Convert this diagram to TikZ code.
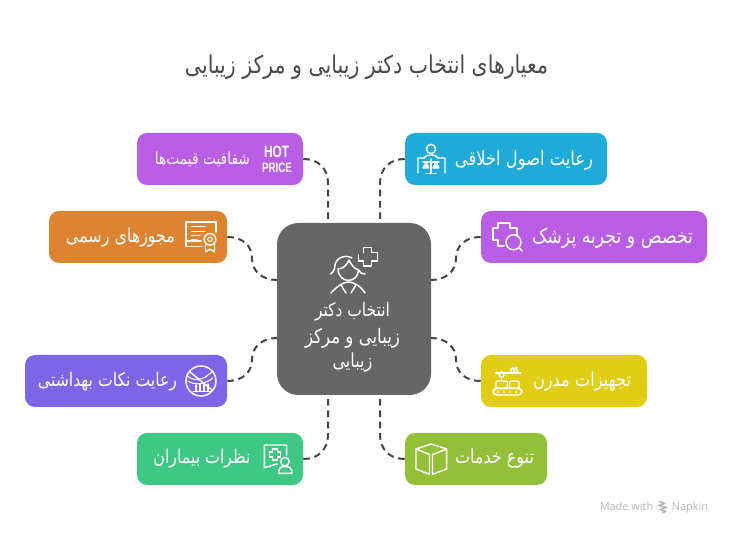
\documentclass[tikz,border=0pt]{standalone}
\usepackage{fontspec}
\setmainfont{Liberation Sans}
\newfontfamily\arabicfont[Script=Arabic]{DejaVu Sans}
\newfontfamily\uifont{Open Sans}
\TeXXeTstate=1
\newcommand\fa[2]{\scalebox{1}[1.2]{\resizebox{\dimexpr #1pt*3/4\relax}{!}{\arabicfont #2}}}
\newcommand\fitbox[3]{\resizebox{\dimexpr #1pt*3/4\relax}{\dimexpr #2pt*3/4\relax}{\bfseries #3}}
\definecolor{cPurple}{HTML}{BA5DE5}
\definecolor{cBlue}{HTML}{1EABDA}
\definecolor{cOrange}{HTML}{DE8431}
\definecolor{cViolet}{HTML}{7E65E8}
\definecolor{cYellow}{HTML}{E1CD15}
\definecolor{cGreen}{HTML}{3FC883}
\definecolor{cLime}{HTML}{94BF38}
\definecolor{cCentre}{HTML}{666666}
\definecolor{cLine}{HTML}{444444}
\definecolor{cTitle}{HTML}{4A4A4A}
\definecolor{cMark}{HTML}{B8B8B8}
\tikzset{
  box/.style n args={3}{fill=#1,rounded corners=7.5pt,inner sep=0pt,minimum width=#2*0.75pt,minimum height=#3*0.75pt},
  lbl/.style={text=white,inner sep=0pt},
  link/.style={draw=cLine,line width=1.5pt,dash pattern=on 5pt off 3.5pt},
  ic/.style={draw=white,line width=1.1pt,line join=round,line cap=round},
  icthin/.style={draw=white,line width=0.8pt,line join=round,line cap=round},
  footmark/.style={text=cMark,inner sep=0pt,font=\uifont\fontsize{8.2pt}{10pt}\selectfont}
}
\begin{document}
\begin{tikzpicture}[x=0.75pt,y=-0.75pt]
\useasboundingbox (0,0) rectangle (732,534);
\fill[white] (0,0) rectangle (732,534);

% title
\node[text=cTitle,inner sep=0pt] (title) at (366.5,67) {\fa{363}{\beginR معیارهای انتخاب دکتر زیبایی و مرکز زیبایی\endR}};

% boxes
\node[box={cCentre}{154}{172},rounded corners=16pt] (centre) at (354,309) {};
\node[box={cPurple}{166}{52}] (price) at (220,159) {};
\node[box={cBlue}{202}{52}] (ethics) at (506,159) {};
\node[box={cOrange}{178}{52}] (licence) at (138,237) {};
\node[box={cPurple}{226}{52}] (expert) at (594,237) {};
\node[box={cViolet}{202}{52}] (hygiene) at (126,381) {};
\node[box={cYellow}{166}{52}] (equip) at (564,381) {};
\node[box={cGreen}{166}{52}] (patient) at (220,459) {};
\node[box={cLime}{142}{52}] (service) at (476,459) {};

% attachment points on the central box
\coordinate (cTL) at (328,223);
\coordinate (cTR) at (380,223);
\coordinate (cLU) at (277,280);
\coordinate (cRU) at (431,280);
\coordinate (cLD) at (277,338);
\coordinate (cRD) at (431,338);
\coordinate (cBL) at (328,395);
\coordinate (cBR) at (380,395);

% connectors
\draw[link] (price.east) .. controls (318,159) and (328,168) .. (328,184) -- (cTL);
\draw[link] (ethics.west) .. controls (390,159) and (380,168) .. (380,184) -- (cTR);
\draw[link] (licence.east) .. controls (243,237) and (252,246) .. (252,258.5) .. controls (252,271) and (262,280) .. (cLU);
\draw[link] (expert.west) .. controls (465,237) and (456,246) .. (456,258.5) .. controls (456,271) and (446,280) .. (cRU);
\draw[link] (hygiene.east) .. controls (243,381) and (252,372) .. (252,359.5) .. controls (252,347) and (262,338) .. (cLD);
\draw[link] (equip.west) .. controls (465,381) and (456,372) .. (456,359.5) .. controls (456,347) and (446,338) .. (cRD);
\draw[link] (patient.east) .. controls (318,459) and (328,450) .. (328,434) -- (cBL);
\draw[link] (service.west) .. controls (390,459) and (380,450) .. (380,434) -- (cBR);

% labels
\node[lbl] (tC1) at (352.5,312) {\fa{75}{\beginR انتخاب دکتر\endR}};
\node[lbl] (tC2) at (352.5,338) {\fa{95}{\beginR زیبایی و مرکز\endR}};
\node[lbl] (tC3) at (352.5,363) {\fa{40}{\beginR زیبایی\endR}};
\node[lbl] (tPrice) at (202.5,159) {\fa{95}{\beginR شفافیت قیمت‌ها\endR}};
\node[lbl] (tEthics) at (524,160) {\fa{138}{\beginR رعایت اصول اخلاقی\endR}};
\node[lbl] (tLicence) at (120.5,238) {\fa{109}{\beginR مجوزهای رسمی\endR}};
\node[lbl] (tExpert) at (612.5,238) {\fa{161}{\beginR تخصص و تجربه پزشک\endR}};
\node[lbl] (tHygiene) at (107.5,382) {\fa{139}{\beginR رعایت نکات بهداشتی\endR}};
\node[lbl] (tEquip) at (582,381) {\fa{98}{\beginR تجهیزات مدرن\endR}};
\node[lbl] (tPatient) at (202,459) {\fa{97}{\beginR نظرات بیماران\endR}};
\node[lbl] (tService) at (494.5,459) {\fa{79}{\beginR تنوع خدمات\endR}};

% HOT PRICE icon
\node[lbl,anchor=center] (hot) at (276.5,151.5) {\fitbox{25}{11.5}{HOT}};
\node[lbl,anchor=center] (hotprice) at (277,167.5) {\fitbox{30}{9.5}{PRICE}};

% central icon
\draw[ic] (363.3,252.7) -- (363.3,247.3) -- (371.7,247.3) -- (371.7,252.7) -- (377.7,252.7) -- (377.7,261) -- (371.7,261) -- (371.7,266) -- (363.3,266) -- (363.3,261) -- (358.3,261) -- (358.3,255);
\draw[ic] (338,269) .. controls (338.5,284) and (358,284) .. (358.5,270);
\draw[ic] (330.5,274) .. controls (334,272) and (335,268) .. (335,265) .. controls (336,258) and (345,254) .. (352,258);
\draw[ic] (338,269) .. controls (343,269) and (347,265) .. (349,260) .. controls (351,265) and (355,269) .. (358.5,270) .. controls (360,273) and (362,274) .. (365,274);
\draw[ic] (331,293) .. controls (338,285) and (345,282) .. (348,282) .. controls (353,282) and (360,285) .. (365,293);
\draw[ic] (341,285) -- (346,293);
\draw[ic] (356,285) -- (351,293);

% ethics icon
\draw[ic] (431,149) circle (4.6);
\draw[ic] (418,173) -- (418,158) -- (424,158) .. controls (425,155.5) and (428,155) .. (431,155) .. controls (434,155) and (437,155.5) .. (438,158) -- (445,158) -- (445,173);
\draw[icthin] (423,162) -- (439,162) (431,159) -- (431,173) (426,173.3) -- (436,173.3);
\draw[icthin,fill=white] (423,168) arc[start angle=180,end angle=360,radius=3] -- cycle;
\draw[icthin,fill=white] (433,168) arc[start angle=180,end angle=360,radius=3] -- cycle;
\draw[icthin] (423,168) -- (426,162) -- (429,168) (433,168) -- (436,162) -- (439,168);

% licence icon
\draw[ic] (209,222) -- (186,222) -- (186,241) -- (201,241);
\draw[ic] (209,222) -- (216,222) -- (216,232);
\draw[ic] (186,241) -- (186,246.7) -- (202,246.7);
\draw[ic] (191.5,226.7) -- (205,226.7) (191.5,231.7) -- (205,231.7) (191.5,235.7) -- (200,235.7) (191.5,240) -- (197,240);
\draw[ic] (210,239.3) circle (5.8);
\draw[icthin] (210,239.3) circle (2.3);
\draw[ic] (205.5,245) -- (205.5,251.7) -- (210,249.3) -- (214.5,251.7) -- (214.5,245);

% expertise icon
\draw[ic] (517,235) -- (517,228) -- (510,228) -- (510,223) -- (498,223) -- (498,228) -- (493,228) -- (493,240) -- (498,240) -- (498,246) -- (504,246);
\draw[ic] (513.5,242.3) circle (7.5);
\draw[ic] (519,247.5) -- (522,251);

% hygiene icon
\draw[ic] (201,381) circle (15);
\draw[ic] (190,372) -- (212,390);
\draw[icthin] (187,375) .. controls (192,382) and (203,380) .. (208,375) -- (213,371);
\draw[icthin] (188,381) .. controls (195,386) and (205,384) .. (213,378);
\draw[icthin] (196,391) -- (196,385) (200,391) -- (200,384) (204,391) -- (204,384) (208,391) -- (208,384) (193,391.5) -- (211,391.5);

% equipment icon
\draw[ic,rounded corners=3pt] (493,388.3) rectangle (522,395);
\fill[white] (498,392) circle (1.1) (504,392) circle (1.1) (510,392) circle (1.1) (516,392) circle (1.1);
\draw[ic,rounded corners=1pt] (496,388.3) rectangle (507.3,381);
\draw[ic,rounded corners=1pt] (509.5,388.3) rectangle (519,381);
\draw[ic] (501.5,374.5) circle (2.6);
\draw[ic] (495.5,373) -- (520.5,373);
\draw[ic] (511,373) -- (511,369) -- (513,367.5) -- (514,373) (514.5,373) -- (514.5,369) -- (516.5,367.5) -- (517.5,373);
\draw[ic] (501.5,377) -- (501.5,381);

% patient icon
\draw[ic] (286.7,455) -- (286.7,445) -- (264.3,445) -- (264.3,467.7) -- (277,464);
\draw[icthin] (272.5,449) -- (277.5,449) -- (277.5,452) -- (280.5,452) -- (280.5,457) -- (277.5,457) -- (277.5,460) -- (272.5,460) -- (272.5,457) -- (269.5,457) -- (269.5,452) -- (272.5,452) -- cycle;
\draw[ic] (285,461.7) circle (4.3);
\draw[ic] (279,473.3) .. controls (278,468) and (281,466.5) .. (285,466.5) .. controls (289,466.5) and (292.5,468) .. (291.7,473.3) -- cycle;

% services icon
\draw[ic] (431,444) -- (446.7,449) -- (446.7,469) -- (432.5,474.3) -- (432.5,454.5) -- (446.7,449);
\draw[ic] (431,444) -- (416,449) -- (416,469) -- (429.5,474.3) -- (429.5,454.5) -- (416,449);

% footer
\node[footmark,anchor=base west] (made) at (599.5,510.5) {Made with};
\node[footmark,anchor=base west] (napkin) at (671.5,510.5) {Napkin};
\draw[cMark,line width=1.1pt,line join=round] (659,501.5) -- (665,503.5) -- (658.5,505.5) -- (667,507.5) -- (660,509.5) -- (666,511.5) -- (662,513);
\end{tikzpicture}
\end{document}
